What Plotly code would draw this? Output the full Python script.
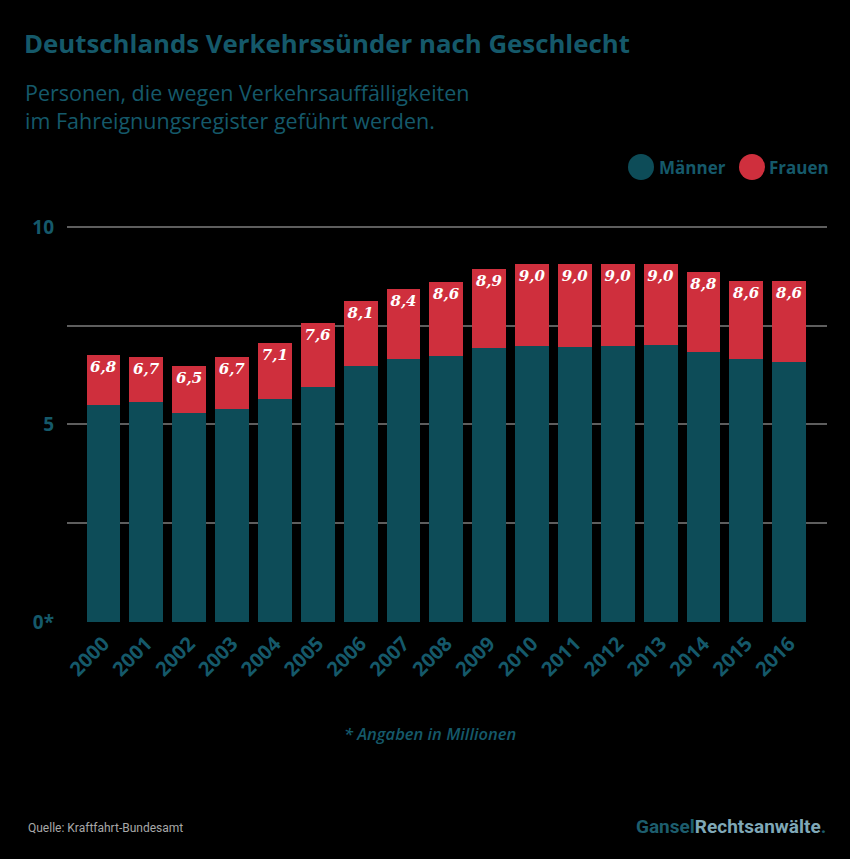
import plotly.graph_objects as go

years = [str(y) for y in range(2000, 2017)]
maenner = [5.49, 5.56, 5.28, 5.38, 5.64, 5.96, 6.48, 6.67, 6.74, 6.94, 6.99, 6.95, 6.99, 7.00, 6.83, 6.65, 6.59]
frauen = [1.27, 1.14, 1.20, 1.33, 1.42, 1.61, 1.65, 1.76, 1.86, 2.00, 2.07, 2.11, 2.07, 2.06, 2.02, 1.97, 2.03]
gesamt_labels = ["6,8", "6,7", "6,5", "6,7", "7,1", "7,6", "8,1", "8,4", "8,6", "8,9",
                 "9,0", "9,0", "9,0", "9,0", "8,8", "8,6", "8,6"]
y_tickvals = [0, 2.5, 5, 7.5, 10]
y_ticktext = ["0*", "", "5", "", "10"]

TEAL = "#0d4c58"
TEAL_TXT = "#15596a"
RED = "#cf2f3d"
BG = "#000000"
GRID = "#5e5e5e"
SANS = "Open Sans"

W, H = 850, 859
L, R, T, B = 67, 23, 223, 237
PW = W - L - R
PH = H - T - B


def px(x):
    return (x - L) / PW


def py(y):
    return (H - B - y) / PH


fig = go.Figure()
fig.add_trace(go.Bar(x=years, y=maenner, name="Männer", marker=dict(color=TEAL, line=dict(width=0)),
                     showlegend=False, hoverinfo="skip"))
fig.add_trace(go.Bar(x=years, y=frauen, name="Frauen", marker=dict(color=RED, line=dict(width=0)),
                     text=gesamt_labels, textposition="inside", insidetextanchor="end", textangle=0,
                     constraintext="none",
                     textfont=dict(family="DejaVu Serif", size=15, color="white", weight="bold", style="italic"),
                     showlegend=False, hoverinfo="skip"))

fig.update_layout(
    width=W, height=H,
    margin=dict(l=L, r=R, t=T, b=B),
    paper_bgcolor=BG, plot_bgcolor=BG,
    barmode="stack", bargap=0.21,
    font=dict(family=SANS, color=TEAL_TXT),
    xaxis=dict(range=[-0.85, 16.88], tickangle=-45, showgrid=False, zeroline=False, showline=False,
               ticks="", tickfont=dict(family=SANS, size=20, color=TEAL_TXT, weight="bold"),
               ticklabelstandoff=5),
    yaxis=dict(range=[0, 10.1], tickvals=y_tickvals, ticktext=y_ticktext, showgrid=True,
               gridcolor=GRID, gridwidth=2, zeroline=False, showline=False, ticks="",
               tickfont=dict(family=SANS, size=19, color=TEAL_TXT, weight="bold"),
               ticklabelstandoff=12),
)

P = dict(xref="paper", yref="paper", showarrow=False)
ann = []
ann.append(dict(text="Deutschlands Verkehrssünder nach Geschlecht", x=px(22), y=py(43),
                xanchor="left", yanchor="middle", **P,
                font=dict(family=SANS, size=25.8, color=TEAL_TXT, weight="bold")))
ann.append(dict(text="Personen, die wegen Verkehrsauffälligkeiten<br>im Fahreignungsregister geführt werden.",
                x=px(23), y=py(106), xanchor="left", yanchor="middle", align="left", **P,
                font=dict(family=SANS, size=21.5, color=TEAL_TXT)))
ann.append(dict(text="Männer", x=px(657), y=py(167), xanchor="left", yanchor="middle", **P,
                font=dict(family=SANS, size=17, color=TEAL_TXT, weight="bold")))
ann.append(dict(text="Frauen", x=px(767), y=py(167), xanchor="left", yanchor="middle", **P,
                font=dict(family=SANS, size=17, color=TEAL_TXT, weight="bold")))
ann.append(dict(text="* Angaben in Millionen", x=px(430), y=py(733), xanchor="center", yanchor="middle",
                **P, font=dict(family=SANS, size=16.5, color=TEAL_TXT, style="italic", weight=600)))
ann.append(dict(text="Quelle: Kraftfahrt-Bundesamt", x=px(26), y=py(828), xanchor="left", yanchor="middle",
                **P, font=dict(family="Liberation Sans Narrow, Roboto", size=12, color="#a8a8a8")))
ann.append(dict(text="<b><span style='color:#1d5d6d'>Gansel</span><span style='color:#7fa8b7'>Rechtsanwälte</span><span style='color:#1d5d6d'>.</span></b>",
                x=px(828), y=py(826), xanchor="right", yanchor="middle", **P,
                font=dict(family="Liberation Sans Narrow, Roboto", size=19)))
fig.update_layout(annotations=ann)

shapes = []
for cx, col in [(641, TEAL), (752, RED)]:
    shapes.append(dict(type="circle", xref="paper", yref="paper", xsizemode="pixel", ysizemode="pixel",
                       xanchor=px(cx), yanchor=py(167), x0=-13, x1=13, y0=-13, y1=13,
                       fillcolor=col, line=dict(width=0)))
fig.update_layout(shapes=shapes)

fig.write_html("out.html")
